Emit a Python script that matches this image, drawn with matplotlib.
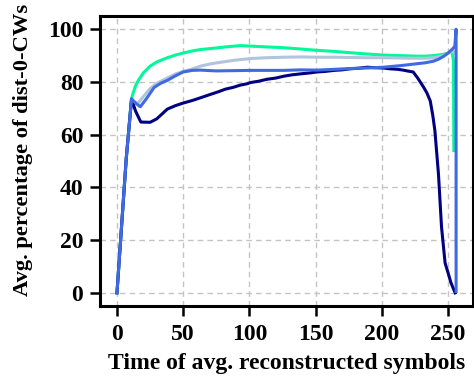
import matplotlib
matplotlib.use("Agg")
import matplotlib.pyplot as plt

plt.rcParams['font.family'] = ['Liberation Serif', 'DejaVu Serif']
plt.rcParams['font.weight'] = 'bold'

# Series data (x, value)
navy_x = [0, 7, 11, 14, 18, 25, 30, 38, 44, 50, 57, 63, 70, 76, 82, 88, 93, 98, 101, 107, 113, 120, 126, 132, 139, 145, 151, 157, 164, 170, 176, 182, 189, 195, 201, 206, 212, 216, 219, 223.6, 227, 231.5, 234, 236.5, 238.5, 240, 242.7, 245, 247.7, 250, 252, 254, 255.3]
navy_y = [0, 51, 73.5, 69, 64.8, 64.7, 66, 69.7, 71, 72, 73, 74, 75.2, 76.2, 77.3, 78, 78.8, 79.3, 79.8, 80.3, 81, 81.5, 82.2, 82.7, 83.1, 83.4, 83.8, 84, 84.4, 84.6, 85, 85.2, 85.6, 85.4, 85.3, 85, 84.8, 84.5, 84.2, 83.8, 81.5, 78, 75.8, 72.8, 67, 61.5, 45, 25, 11.3, 7.5, 4, 1.5, 0]

royal_x = [0, 7, 11, 14, 17.6, 22, 28, 33, 38, 44, 50, 57, 63, 75, 88, 100, 113, 126, 139, 151, 164, 176, 189, 201, 214, 226, 233, 239, 243, 246.5, 250, 252.8, 255, 256, 256]
royal_y = [0, 51, 73.6, 72, 70.6, 73.5, 77.9, 79.5, 80.6, 82.3, 83.8, 84.4, 84.5, 84.2, 84.3, 84.4, 84.4, 84.4, 84.6, 84.5, 84.8, 85.1, 85.3, 85.6, 86.2, 86.9, 87.3, 87.9, 88.7, 89.7, 91, 92.3, 93.5, 100, 0.5]

steel_x = [0, 7, 11, 13, 16, 20, 25, 30, 38, 44, 50, 56, 63, 70, 76, 88, 101, 113, 126, 139, 151, 164, 176, 189, 201, 214, 226, 233, 239, 245, 249, 251.5, 254, 255]
steel_y = [0, 51, 73.6, 72.5, 72, 74.5, 77.5, 79.5, 81.5, 83, 84, 84.8, 86, 86.8, 87.3, 88.2, 88.9, 89.2, 89.4, 89.5, 89.4, 89.4, 89.3, 89.2, 89.2, 89.1, 89, 89, 89.2, 89.8, 90.6, 91.4, 91.6, 91]

green_x = [0, 7, 11, 12, 14, 16, 20, 25, 30, 38, 44, 51, 57, 63, 71, 82, 93, 101, 113, 126, 139, 151, 164, 176, 189, 201, 214, 226, 233, 239, 245, 249, 252.8, 254, 254.3]
green_y = [0, 51, 73.6, 75.5, 78.5, 80.5, 83.5, 86, 87.6, 89.2, 90.2, 91.1, 91.8, 92.3, 92.7, 93.3, 93.8, 93.6, 93.3, 93, 92.5, 92, 91.6, 91.1, 90.6, 90.2, 90, 89.8, 89.8, 90, 90.4, 90.8, 91.7, 88, 54]

series = [
    (green_x, green_y, '#00FA9A'),
    (steel_x, steel_y, '#B0C4DE'),
    (navy_x, navy_y, '#000080'),
    (royal_x, royal_y, '#4169E1'),
]

xticks = [0, 50, 100, 150, 200, 250]
yticks = [0, 20, 40, 60, 80, 100]

fig = plt.figure(figsize=(4.74, 3.83), dpi=100)
ax = fig.add_axes([0.211, 0.201, 0.787, 0.757])

for xs, ys, c in series:
    ax.plot(xs, ys, color=c, lw=2.2, solid_joinstyle='round')

ax.set_xlim(-12.8, 268.8)
ax.set_ylim(-5, 105)
ax.set_xticks(xticks)
ax.set_yticks(yticks)
ax.grid(True, linestyle=(0, (4, 3)), color='#c4c4c4', lw=1.0)
ax.set_axisbelow(True)
for s in ax.spines.values():
    s.set_linewidth(2.2)
ax.tick_params(axis='x', which='major', labelsize=17, length=7, width=1.8, direction='out', pad=6)
ax.tick_params(axis='y', which='major', labelsize=17, length=7, width=1.8, direction='out', pad=5)
for lab in ax.get_xticklabels() + ax.get_yticklabels():
    lab.set_fontweight('bold')
ax.set_xlabel('Time of avg. reconstructed symbols', fontsize=17, fontweight='bold', labelpad=6)
ax.set_ylabel('Avg. percentage of dist-0-CWs', fontsize=16.2, fontweight='bold')
ax.yaxis.set_label_coords(-0.18, 0.538)

fig.savefig('out.png', dpi=100)
